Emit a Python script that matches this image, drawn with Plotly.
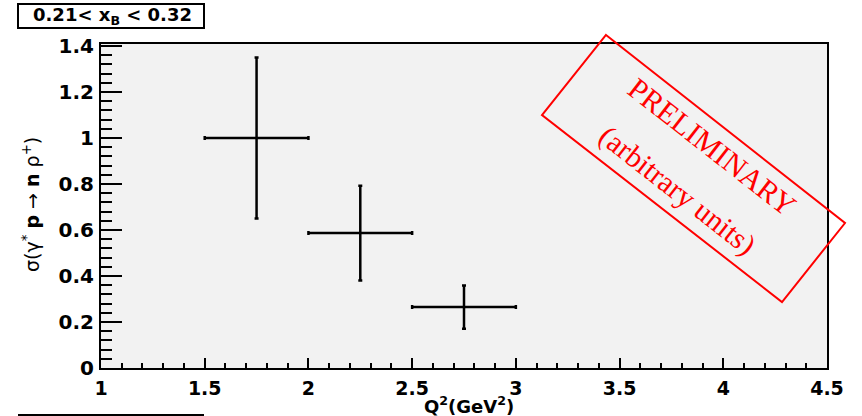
import plotly.graph_objects as go

# ---- data ----
q2 = [1.75, 2.25, 2.75]
q2_err = [0.25, 0.25, 0.25]
sigma = [1.0, 0.587, 0.265]
sigma_err = [0.35, 0.206, 0.094]

x_ticks = [1, 1.5, 2, 2.5, 3, 3.5, 4, 4.5]
x_ticklabels = ["1", "1.5", "2", "2.5", "3", "3.5", "4", "4.5"]
y_ticks = [0, 0.2, 0.4, 0.6, 0.8, 1.0, 1.2, 1.4]
y_ticklabels = ["0", "0.2", "0.4", "0.6", "0.8", "1", "1.2", "1.4"]

W, H = 862, 416
L, R, T, B = 101, 827, 44, 368   # plot area in pixels


def px(x):
    return (x - L) / (R - L)


def py(y):
    return (B - y) / (B - T)


fig = go.Figure()
fig.add_trace(go.Scatter(
    x=q2, y=sigma, mode="markers",
    marker=dict(size=2, color="black"),
    error_x=dict(type="data", array=q2_err, color="black", thickness=2.5, width=2),
    error_y=dict(type="data", array=sigma_err, color="black", thickness=2.5, width=2),
    showlegend=False, cliponaxis=False,
))

tickfont_y = dict(family="DejaVu Sans", size=20, color="black")
tickfont_x = dict(family="DejaVu Sans", size=19, color="black")

fig.update_layout(
    width=W, height=H,
    margin=dict(l=L, r=W - R, t=T, b=H - B, pad=0),
    paper_bgcolor="white",
    plot_bgcolor="#f2f2f2",
    xaxis=dict(
        range=[1, 4.5], tickvals=x_ticks,
        ticktext=[f"<b>{t}</b>" for t in x_ticklabels],
        tickfont=tickfont_x, ticks="inside", ticklen=10, tickwidth=2,
        tickcolor="black", showline=True, linecolor="black", linewidth=2,
        mirror=True, showgrid=False, zeroline=False,
        minor=dict(dtick=0.1, ticks="inside", ticklen=5, tickwidth=2,
                   tickcolor="black", showgrid=False),
        ticklabelstandoff=2,
    ),
    yaxis=dict(
        range=[0, 1.409], tickvals=y_ticks,
        ticktext=[f"<b>{t}</b>" for t in y_ticklabels],
        tickfont=tickfont_y, ticks="inside", ticklen=21, tickwidth=2,
        tickcolor="black", showline=True, linecolor="black", linewidth=2,
        mirror=True, showgrid=False, zeroline=False,
        minor=dict(dtick=0.04, ticks="inside", ticklen=11, tickwidth=2,
                   tickcolor="black", showgrid=False),
        ticklabelstandoff=1,
    ),
)

shapes = []
annotations = []

# title box
shapes.append(dict(type="rect", xref="paper", yref="paper",
                   x0=px(18), x1=px(204), y0=py(4), y1=py(28),
                   line=dict(color="black", width=2), fillcolor="white", layer="above"))
annotations.append(dict(xref="paper", yref="paper", x=px(112), y=py(16),
                        text="<b>0.21< x<sub>B</sub> < 0.32</b>", showarrow=False,
                        font=dict(family="DejaVu Sans", size=18, color="black"),
                        xanchor="center", yanchor="middle"))
# cut-off box top at bottom left
shapes.append(dict(type="line", xref="paper", yref="paper",
                   x0=px(18), x1=px(204), y0=py(415), y1=py(415),
                   line=dict(color="black", width=2)))

# axis titles
annotations.append(dict(xref="paper", yref="paper", x=px(469), y=py(405),
                        text="<b>Q<sup>2</sup>(GeV<sup>2</sup>)</b>", showarrow=False,
                        font=dict(family="DejaVu Sans", size=18, color="black"),
                        xanchor="center", yanchor="middle"))
annotations.append(dict(xref="paper", yref="paper", x=px(31), y=py(205),
                        text="σ(γ<sup>*</sup> <b>p</b> → <b>n</b> ρ<sup>+</sup>)",
                        showarrow=False, textangle=-90,
                        font=dict(family="DejaVu Sans", size=19, color="black"),
                        xanchor="center", yanchor="middle"))

# PRELIMINARY stamp (rotated box)
corners = [(606, 35), (845, 223), (782, 302), (542, 115)]
path = "M " + " L ".join(f"{px(cx):.5f},{py(cy):.5f}" for cx, cy in corners) + " Z"
shapes.append(dict(type="path", xref="paper", yref="paper", path=path,
                   line=dict(color="red", width=2), layer="above"))
annotations.append(dict(xref="paper", yref="paper", x=px(712), y=py(146),
                        text="PRELIMINARY", showarrow=False, textangle=38,
                        font=dict(family="Liberation Serif", size=30, color="red"),
                        xanchor="center", yanchor="middle"))
annotations.append(dict(xref="paper", yref="paper", x=px(677), y=py(190),
                        text="(arbitrary units)", showarrow=False, textangle=38,
                        font=dict(family="Liberation Serif", size=30, color="red"),
                        xanchor="center", yanchor="middle"))

fig.update_layout(shapes=shapes, annotations=annotations)
fig.write_html("out.html")
